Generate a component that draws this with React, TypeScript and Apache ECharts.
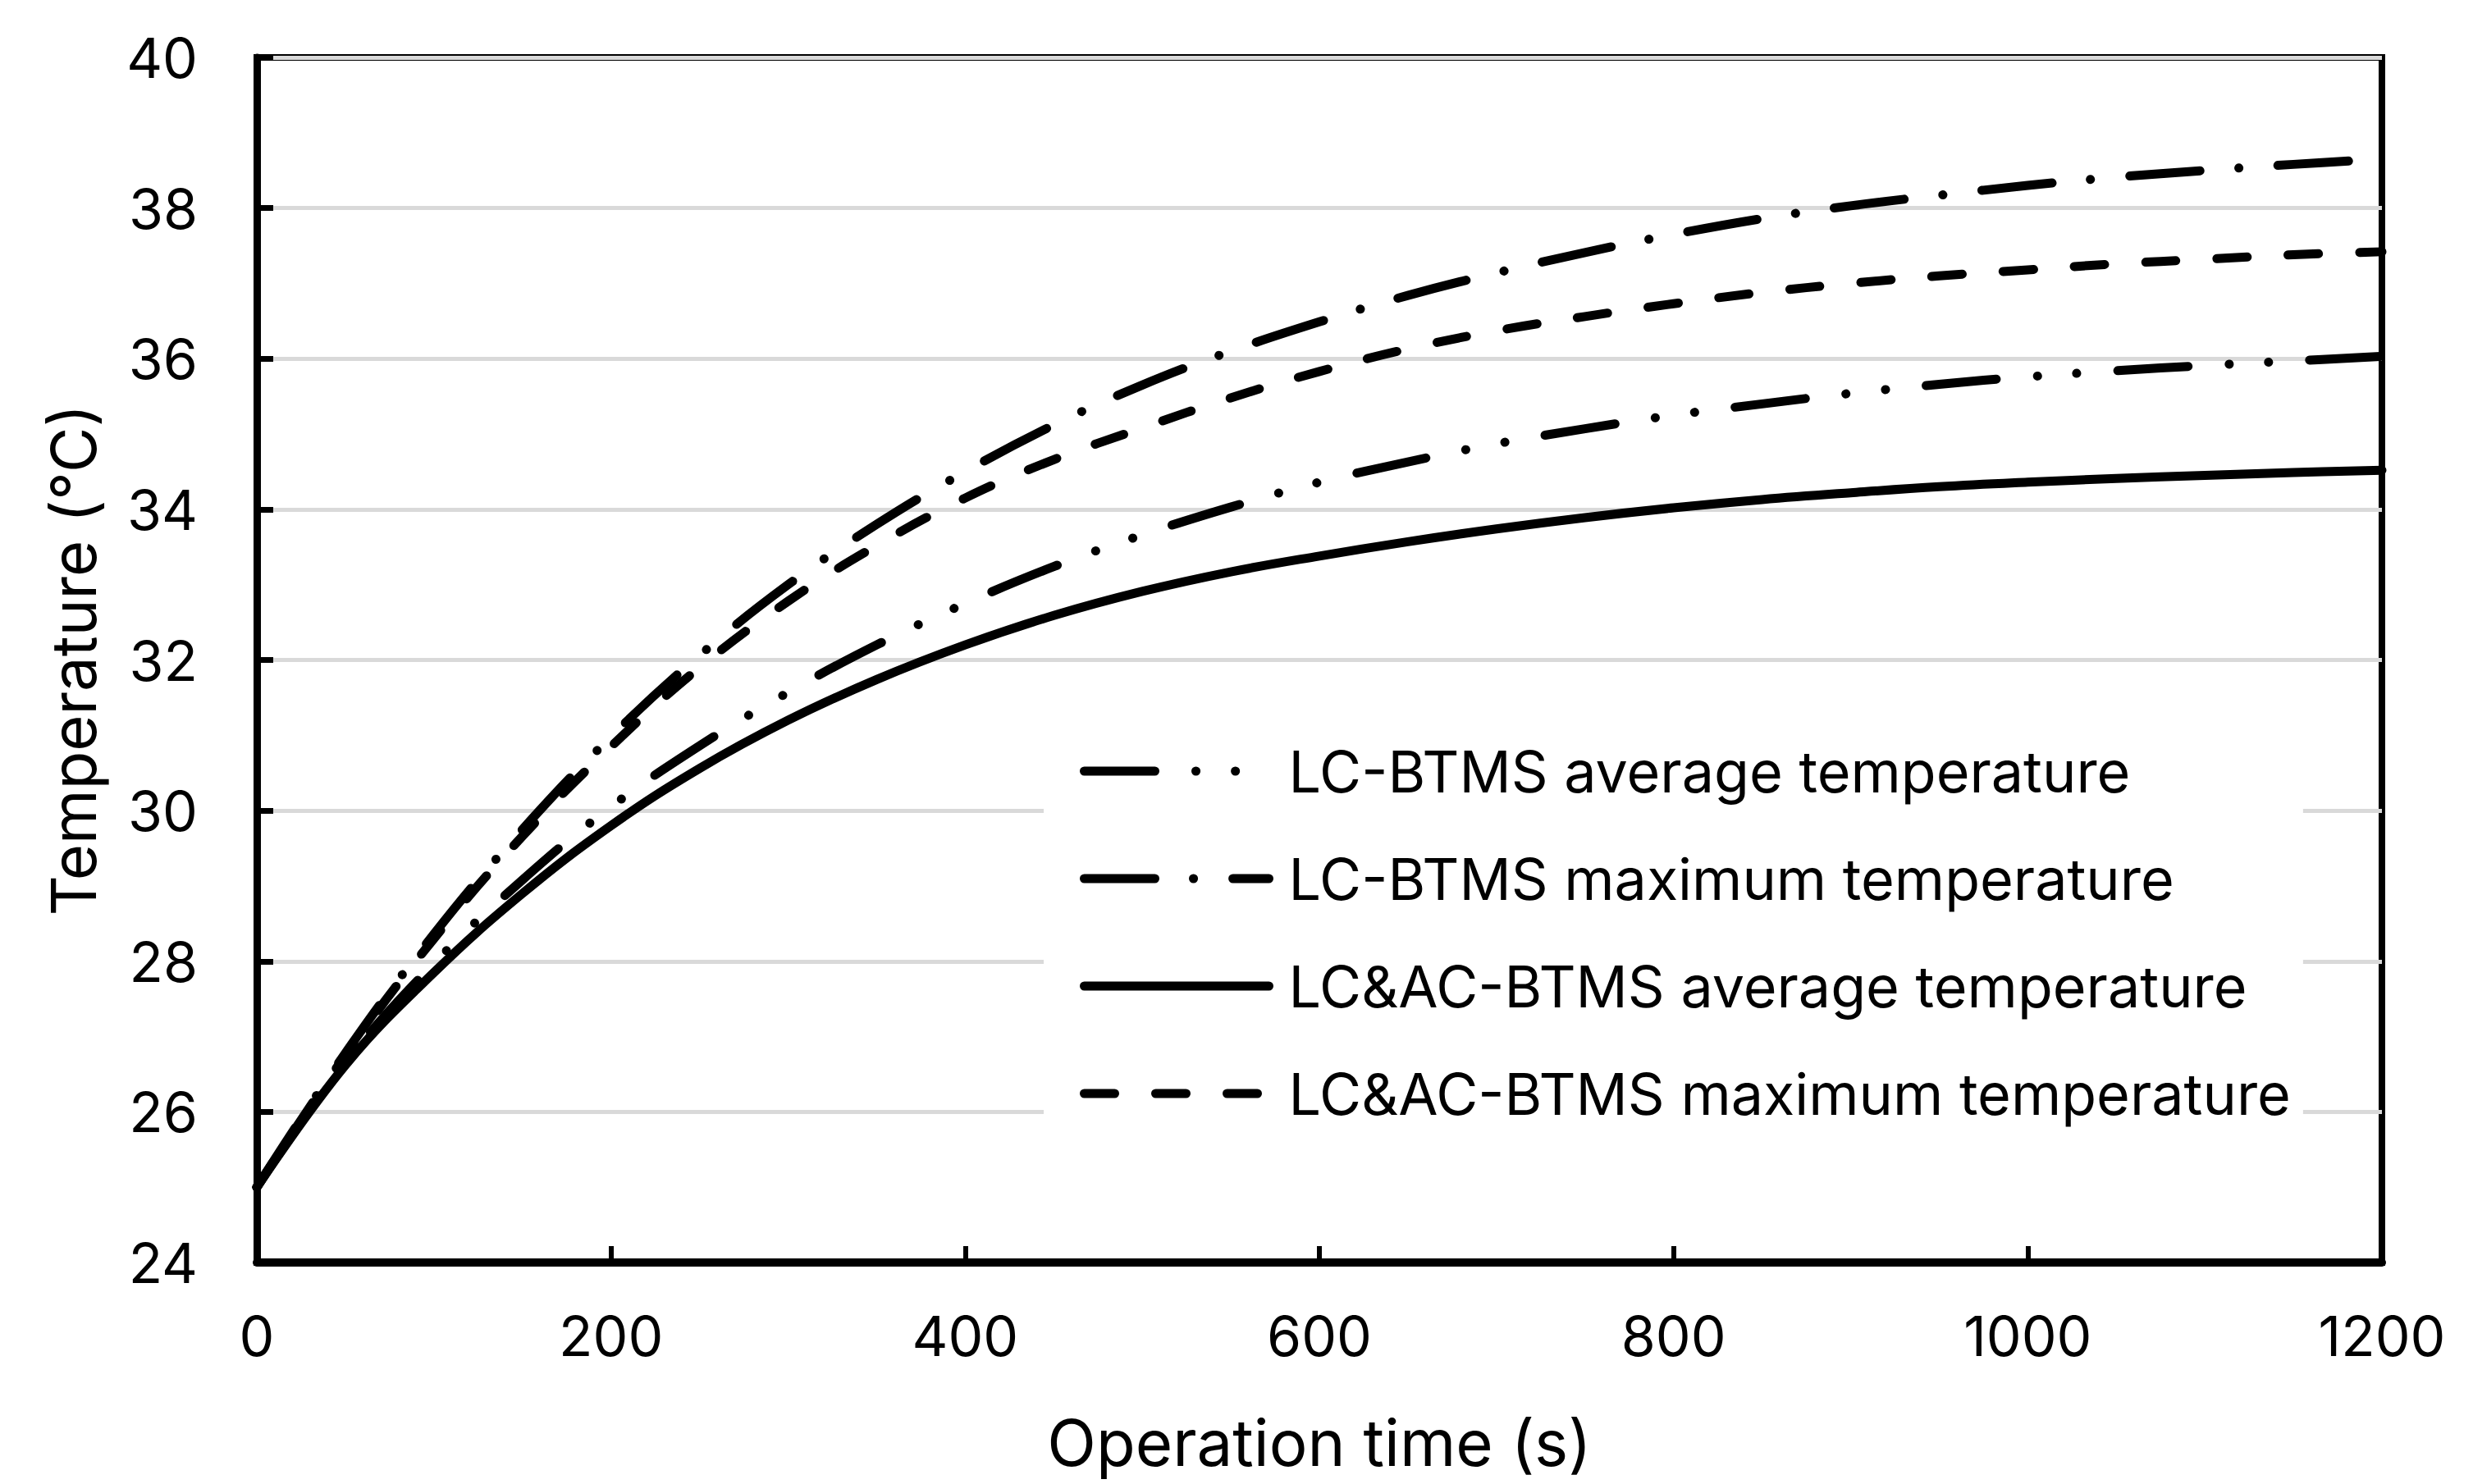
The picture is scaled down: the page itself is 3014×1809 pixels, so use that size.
import React, { useEffect, useRef } from 'react';
import * as echarts from 'echarts';

// Operation time (s)
const TIME_S = [0, 50, 100, 150, 200, 250, 300, 350, 400, 450, 500, 550, 600, 650, 700, 750, 800, 850, 900, 950, 1000, 1050, 1100, 1150, 1200];

// Temperatures (°C)
const LC_AVG = [25.0, 26.65, 27.97, 29.08, 30.05, 30.86, 31.57, 32.2, 32.75, 33.24, 33.66, 34.03, 34.36, 34.63, 34.87, 35.07, 35.25, 35.4, 35.54, 35.66, 35.76, 35.84, 35.91, 35.97, 36.03];
const LC_MAX = [25.0, 26.78, 28.36, 29.75, 30.98, 32.06, 33.0, 33.8, 34.5, 35.12, 35.65, 36.1, 36.49, 36.84, 37.14, 37.41, 37.65, 37.86, 38.03, 38.17, 38.3, 38.41, 38.5, 38.58, 38.65];
const LCAC_AVG = [25.0, 26.62, 27.85, 28.9, 29.8, 30.56, 31.2, 31.74, 32.2, 32.59, 32.91, 33.17, 33.38, 33.57, 33.74, 33.89, 34.02, 34.13, 34.22, 34.3, 34.36, 34.41, 34.45, 34.49, 34.52];
const LCAC_MAX = [25.0, 26.75, 28.3, 29.66, 30.85, 31.9, 32.78, 33.52, 34.15, 34.66, 35.08, 35.48, 35.83, 36.13, 36.37, 36.56, 36.73, 36.88, 37.0, 37.1, 37.18, 37.26, 37.32, 37.38, 37.42];

const SERIES_NAMES = [
  'LC-BTMS average temperature',
  'LC-BTMS maximum temperature',
  'LC&AC-BTMS average temperature',
  'LC&AC-BTMS maximum temperature',
];

const X_TICKS = { min: 0, max: 1200, interval: 200 };
const Y_TICKS = { min: 24, max: 40, interval: 2 };

const FONT = 'Inter, "Liberation Sans", Arial, sans-serif';
const LW = 11;

const pairs = (ys: number[]) => TIME_S.map((t, i) => [t, ys[i]]);

export default function App() {
  const ref = useRef<HTMLDivElement>(null);
  useEffect(() => {
    document.body.style.margin = '0';
    const chart = echarts.init(ref.current!, null, { renderer: 'svg' });
    const dashes: any[] = [
      [86, 50, 0.1, 48, 0.1, 50],
      [86, 47, 0.1, 48],
      'solid',
      [37, 50],
    ];
    const values = [LC_AVG, LC_MAX, LCAC_AVG, LCAC_MAX];
    const option: any = {
      animation: false,
      backgroundColor: '#fff',
      textStyle: { fontFamily: FONT, color: '#000' },
      grid: {
        left: 313,
        right: 111,
        top: 70,
        bottom: 270,
        show: true,
        borderColor: '#000',
        borderWidth: 8,
        backgroundColor: 'transparent',
      },
      xAxis: {
        type: 'value',
        min: X_TICKS.min,
        max: X_TICKS.max,
        interval: X_TICKS.interval,
        name: 'Operation time (s)',
        nameLocation: 'middle',
        nameGap: 180,
        nameTextStyle: { fontSize: 78, color: '#000', fontFamily: FONT },
        axisLine: { show: true, lineStyle: { color: '#000', width: 10 } },
        axisTick: { show: true, inside: true, length: 20, lineStyle: { color: '#000', width: 6 } },
        axisLabel: { fontSize: 68, color: '#000', margin: 55, fontFamily: FONT, formatter: (v: number) => String(v) },
        splitLine: { show: false },
      },
      yAxis: {
        type: 'value',
        min: Y_TICKS.min,
        max: Y_TICKS.max,
        interval: Y_TICKS.interval,
        name: 'Temperature (°C)',
        nameLocation: 'middle',
        nameGap: 186,
        nameTextStyle: { fontSize: 76, color: '#000', fontFamily: FONT },
        axisLine: { show: true, lineStyle: { color: '#000', width: 9 } },
        axisTick: { show: true, inside: true, length: 20, lineStyle: { color: '#000', width: 7 } },
        axisLabel: { fontSize: 68, color: '#000', margin: 72, fontFamily: FONT },
        splitLine: { show: true, lineStyle: { color: '#d9d9d9', width: 5 } },
      },
      legend: {
        orient: 'vertical',
        left: 1272,
        top: 870,
        data: SERIES_NAMES,
        backgroundColor: '#fff',
        padding: [35, 15, 40, 44],
        itemWidth: 225,
        itemHeight: 20,
        itemGap: 61,
        itemStyle: { opacity: 0, borderWidth: 0 },
        lineStyle: { width: LW },
        textStyle: { fontSize: 70, lineHeight: 70, color: '#000', fontFamily: FONT, padding: [0, 0, 0, 19] },
        z: 10,
      },
      series: SERIES_NAMES.map((name, i) => ({
        name,
        type: 'line',
        data: pairs(values[i]),
        symbol: 'none',
        showSymbol: false,
        smooth: 0.4,
        color: '#000',
        lineStyle: { color: '#000', width: LW, type: dashes[i], cap: 'round', join: 'round' },
        z: 3,
      })),
    };
    chart.setOption(option);
    return () => chart.dispose();
  }, []);
  return <div ref={ref} style={{ position: 'fixed', left: 0, top: 0, width: 3014, height: 1809, background: '#fff' }} />;
}
